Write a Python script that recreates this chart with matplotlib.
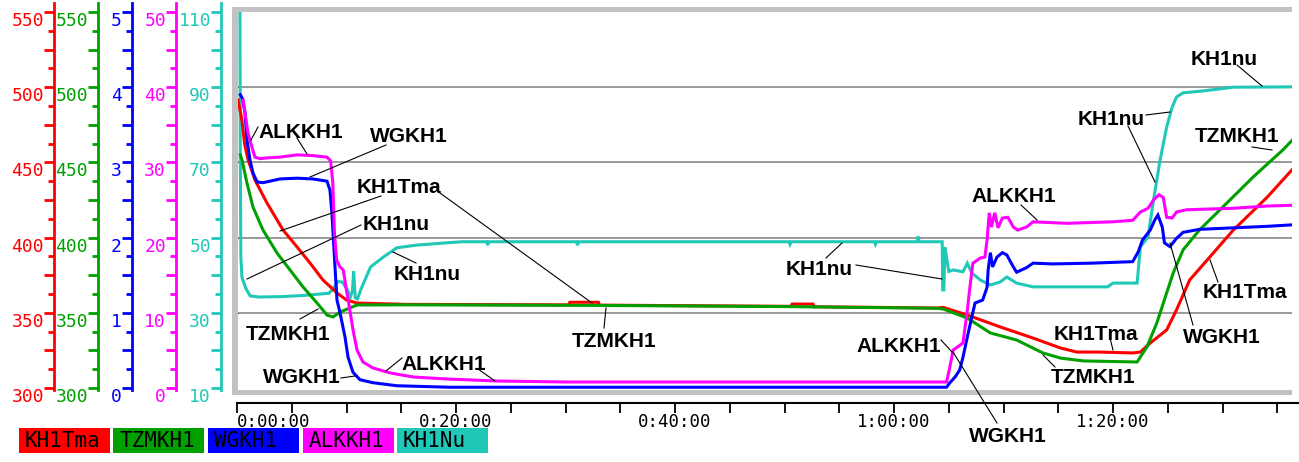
import matplotlib
matplotlib.use('Agg')
import matplotlib.pyplot as plt
from matplotlib.ticker import MultipleLocator, NullFormatter
from matplotlib.patches import Rectangle
from matplotlib.lines import Line2D
import matplotlib.transforms as mtransforms

# ---------------- data ----------------
series_names = ['KH1Tma', 'TZMKH1', 'WGKH1', 'ALKKH1', 'KH1Nu']
series_colors = ['#ff0000', '#00a000', '#0000ff', '#ff00ff', '#20c8b8']
scale_ranges = [(300, 550), (300, 550), (0, 5), (0, 50), (10, 110)]
scale_labels = [
    [300, 350, 400, 450, 500, 550],
    [300, 350, 400, 450, 500, 550],
    [0, 1, 2, 3, 4, 5],
    [0, 10, 20, 30, 40, 50],
    [10, 30, 50, 70, 90, 110],
]
time_ticks = [0, 20, 40, 60, 80]            # minutes
time_labels = ['0:00:00', '0:20:00', '0:40:00', '1:00:00', '1:20:00']

# (minute, value)
tma_pts = [(0.1, 491.5), (0.45, 478), (0.7, 462), (1.0, 452), (1.64, 438.3), (2.74, 423),
           (4.2, 405.1), (5.48, 393.8), (6.67, 383.1), (7.85, 371.8), (9.13, 363.2),
           (10.0, 358.5), (10.96, 356.5), (15.5, 355.6), (30.3, 355.3), (30.4, 357.0),
           (33.0, 357.0), (33.1, 355.1), (50.6, 354.3), (50.7, 355.8), (52.6, 355.8),
           (52.7, 354.0), (64.0, 353.2), (64.5, 353.6), (66.7, 348.5), (69.7, 340.6),
           (72.7, 333.2), (75.2, 326.6), (76.7, 323.9), (78.8, 323.9), (81.8, 323.3),
           (82.5, 323.9), (83.4, 329.9), (84.9, 338.6), (85.8, 351.9), (87.0, 371.8),
           (88.6, 385.1), (91.0, 405.1), (94.1, 427.0), (96.4, 445.5)]
tzm_pts = [(0.3, 455), (0.46, 451.6), (0.91, 436.3), (1.46, 420.3), (2.37, 405.1),
           (3.65, 389.8), (4.84, 378.5), (6.03, 367.2), (7.31, 356.5), (8.22, 348.5),
           (8.77, 347.2), (9.41, 350.5), (10.3, 353.2), (10.96, 355.2), (15.5, 355.3),
           (33.0, 354.9), (50.6, 354.1), (64.0, 353.0), (64.5, 352.5), (66.7, 346.5),
           (68.8, 336.6), (71.2, 331.9), (73.6, 323.3), (75.2, 319.9), (77.3, 318.0),
           (82.2, 317.3), (83.1, 327.3), (84.0, 343.2), (84.9, 363.2), (85.5, 376.5),
           (86.4, 391.8), (87.9, 405.1), (90.4, 423.0), (92.8, 440.3), (95.5, 458.2),
           (96.4, 465.0)]
wg_pts = [(0.3, 3.90), (0.5, 3.85), (0.73, 3.66), (0.91, 3.30), (1.19, 3.03), (1.46, 2.86),
          (1.83, 2.74), (2.37, 2.73), (3.93, 2.78), (5.48, 2.79), (6.94, 2.78), (8.22, 2.75),
          (8.49, 2.63), (8.68, 2.30), (8.95, 1.61), (9.13, 1.17), (9.41, 1.00), (9.86, 0.68),
          (10.14, 0.41), (10.59, 0.21), (11.23, 0.11), (12.42, 0.07), (14.6, 0.03),
          (19.45, 0.01), (64.8, 0.01), (65.1, 0.07), (65.6, 0.15), (66.0, 0.24), (66.3, 0.41),
          (66.7, 0.68), (67.1, 0.94), (67.4, 1.13), (68.1, 1.17), (68.5, 1.34), (68.6, 1.57),
          (68.8, 1.80), (69.0, 1.61), (69.4, 1.74), (69.9, 1.80), (70.3, 1.77), (70.9, 1.61),
          (71.2, 1.54), (72.1, 1.60), (72.7, 1.66), (74.5, 1.65), (78.0, 1.66), (81.8, 1.68),
          (82.3, 1.81), (82.7, 1.97), (83.4, 2.10), (83.8, 2.23), (84.1, 2.30), (84.5, 2.14),
          (84.7, 1.93), (85.2, 1.88), (85.8, 1.99), (86.4, 2.07), (87.9, 2.11), (91.0, 2.13),
          (94.1, 2.15), (96.4, 2.17)]
alk_pts = [(0.55, 38.3), (0.73, 36.6), (1.0, 33.9), (1.37, 32.0), (1.64, 30.7), (2.1, 30.5),
           (2.74, 30.6), (3.93, 30.7), (5.48, 31.0), (6.94, 30.9), (8.22, 30.7), (8.55, 30.2),
           (8.75, 27.3), (8.9, 20.6), (9.1, 17.0), (9.4, 16.1), (9.7, 15.7), (10.0, 13.0),
           (10.3, 10.4), (10.6, 7.7), (10.96, 5.05), (11.5, 3.46), (12.42, 2.66), (14.0, 2.0),
           (16.1, 1.46), (19.2, 1.2), (23.7, 0.93), (30.0, 0.8), (64.8, 0.8), (65.1, 2.79),
           (65.4, 5.05), (65.8, 5.45), (66.3, 5.98), (66.7, 10.4), (66.9, 13.0), (67.2, 16.6),
           (67.9, 17.3), (68.3, 17.4), (68.5, 19.7), (68.7, 23.3), (68.9, 21.4), (69.2, 23.3),
           (69.5, 21.3), (69.9, 22.6), (70.4, 22.7), (70.9, 21.4), (71.3, 21.0), (72.1, 21.4),
           (72.7, 22.1), (75.8, 21.9), (80.0, 22.1), (81.8, 22.3), (82.5, 23.4), (83.2, 23.9),
           (83.7, 25.0), (84.2, 25.7), (84.6, 25.3), (84.9, 22.7), (85.4, 22.6), (85.8, 23.4),
           (86.7, 23.7), (91.0, 23.9), (94.1, 24.2), (96.4, 24.3)]
nu_pts = [(0.27, 110), (0.30, 75), (0.35, 45), (0.45, 39.5), (0.8, 36.5), (1.2, 34.5),
          (2.0, 34.2), (4.0, 34.3), (6.0, 34.6), (8.4, 35.2), (8.8, 36.5), (9.2, 38.3),
          (9.6, 38.2), (10.1, 36.0), (10.3, 33.7), (10.55, 36.0), (10.65, 41.0), (10.8, 34.0),
          (11.0, 33.7), (11.3, 36.1), (12.2, 42.2), (13.4, 44.9), (14.6, 47.3), (16.4, 48.0),
          (19.1, 48.6), (20.6, 48.9), (22.8, 48.9), (22.9, 48.0), (23.0, 48.9), (31.0, 48.9),
          (31.1, 48.0), (31.2, 48.9), (50.4, 48.9), (50.5, 48.2), (50.6, 48.9), (58.2, 48.9),
          (58.3, 48.2), (58.4, 48.9), (62.1, 48.9), (62.2, 50.3), (62.3, 48.9), (64.4, 48.9),
          (64.45, 36.1), (64.55, 36.1), (64.65, 47.5), (65.0, 41.0), (65.4, 41.4), (66.3, 40.9),
          (66.7, 43.2), (67.1, 40.6), (67.9, 38.7), (68.8, 37.4), (69.7, 38.2), (70.3, 39.5),
          (71.2, 37.9), (72.7, 36.9), (79.5, 36.9), (80.0, 37.9), (82.2, 37.9), (82.5, 47.5),
          (83.2, 50.2), (83.7, 60.0), (84.3, 70.6), (84.9, 79.4), (85.4, 84.7), (85.8, 87.4),
          (86.4, 88.5), (88.2, 89.0), (91.0, 90.0), (97.0, 90.1)]
series_points = [tma_pts, tzm_pts, wg_pts, alk_pts, nu_pts]

# annotations: text, (center x, baseline y) in pixels, leader segments in pixels
annotations = [
    ('ALKKH1', (301, 138), [((258, 127), (251, 140)), ((297, 138), (307, 154))]),
    ('WGKH1', (409, 142), [((386, 145), (310, 177))]),
    ('KH1Tma', (399, 193), [((381, 196), (280, 231)), ((440, 193), (592, 303))]),
    ('KH1nu', (396, 230), [((361, 225), (247, 279))]),
    ('KH1nu', (427, 280), [((416, 263), (393, 252))]),
    ('TZMKH1', (288, 340), [((300, 319), (318, 309))]),
    ('WGKH1', (302, 383), [((341, 378), (355, 376))]),
    ('ALKKH1', (444, 370), [((386, 371), (402, 358)), ((478, 369), (495, 381))]),
    ('TZMKH1', (614, 347), [((604, 328), (606, 308))]),
    ('KH1nu', (819, 275), [((826, 258), (842, 243)), ((856, 265), (942, 279))]),
    ('ALKKH1', (1014, 202), [((1021, 205), (1037, 220))]),
    ('ALKKH1', (899, 352), [((941, 340), (952, 352))]),
    ('WGKH1', (1008, 442), [((997, 423), (953, 352))]),
    ('KH1Tma', (1096, 340), [((1110, 338), (1113, 350))]),
    ('TZMKH1', (1093, 383), [((1055, 367), (1043, 355))]),
    ('KH1Tma', (1245, 298), [((1218, 282), (1210, 260))]),
    ('WGKH1', (1222, 343), [((1193, 325), (1170, 243))]),
    ('KH1nu', (1111, 125), [((1146, 115), (1170, 112)), ((1128, 126), (1155, 182))]),
    ('KH1nu', (1224, 65), [((1237, 65), (1262, 86))]),
    ('TZMKH1', (1237, 142), [((1252, 147), (1272, 150))]),
]

# ---------------- layout ----------------
W, H, DPI = 1299, 462, 100
PX_PER_MIN = 10.95
T0_PX = 237
Y_LO_PX, Y_HI_PX = 388, 12          # pixel rows of scale min / max
MONO = 'DejaVu Sans Mono'

fig = plt.figure(figsize=(W / DPI, H / DPI), dpi=DPI)
fig.patch.set_facecolor('white')


def rect(x0, y0, x1, y1):
    return [x0 / W, (H - y1) / H, (x1 - x0) / W, (y1 - y0) / H]


def frac(ypx):
    return (Y_LO_PX - ypx) / (Y_LO_PX - Y_HI_PX)


def lim(rng, ytop, ybot):
    lo, hi = rng
    return lo + (hi - lo) * frac(ybot), lo + (hi - lo) * frac(ytop)


# data axes: cyan at bottom, then red, green, blue, magenta
order = [4, 0, 1, 2, 3]
plot_box = (238, 12, 1292, 390)
base = fig.add_axes(rect(*plot_box))
axes = {}
for k, idx in enumerate(order):
    a = base if k == 0 else base.twinx()
    axes[idx] = a
    a.set_xlim((plot_box[0] - T0_PX) / PX_PER_MIN, (plot_box[2] - T0_PX) / PX_PER_MIN)
    a.set_ylim(*lim(scale_ranges[idx], plot_box[1], plot_box[3]))
    for s in a.spines.values():
        s.set_visible(False)
    a.tick_params(left=False, right=False, bottom=False, top=False,
                  labelleft=False, labelright=False, labelbottom=False)
    a.patch.set_visible(False)

# grid lines (on cyan scale)
base.set_yticks(scale_labels[4][1:-1])
base.grid(True, axis='y', color='#999999', linewidth=1.4)
base.set_axisbelow(True)

for idx in order:
    pts = series_points[idx]
    t = [p[0] for p in pts]
    v = [p[1] for p in pts]
    axes[idx].plot(t, v, color=series_colors[idx], linewidth=2.2, solid_joinstyle='miter')

# gray frame around plot
frame_col = '#c2c2c2'
for (x0, y0, x1, y1) in [(232, 7, 1292, 12), (232, 7, 238, 395), (232, 390, 1292, 395)]:
    fig.add_artist(Rectangle((x0 / W, 1 - y1 / H), (x1 - x0) / W, (y1 - y0) / H,
                             transform=fig.transFigure, facecolor=frame_col,
                             edgecolor='none', zorder=1.5))

# left colored scales
scale_x = [54, 98, 132, 176, 221]
for idx in range(5):
    c = series_colors[idx]
    x = scale_x[idx]
    sa = fig.add_axes(rect(x, 3, x + 1, 390))
    sa.set_ylim(*lim(scale_ranges[idx], 3, 390))
    sa.patch.set_visible(False)
    for nm, s in sa.spines.items():
        s.set_visible(nm == 'left')
    sa.spines['left'].set_color(c)
    sa.spines['left'].set_linewidth(2.0)
    lo, hi = scale_ranges[idx]
    major = (hi - lo) / 10.0
    sa.yaxis.set_major_locator(MultipleLocator(major))
    sa.yaxis.set_minor_locator(MultipleLocator(major / 2))
    sa.yaxis.set_major_formatter(NullFormatter())
    sa.tick_params(axis='y', which='major', direction='out', length=7.2, width=2.0,
                   color=c, labelleft=False)
    sa.tick_params(axis='y', which='minor', direction='out', length=4.3, width=2.0,
                   color=c)
    sa.set_xticks([])
    off = mtransforms.ScaledTranslation(-10 / DPI, -9 / DPI, fig.dpi_scale_trans)
    for val in scale_labels[idx]:
        sa.text(0, val, str(val), transform=sa.get_yaxis_transform() + off,
                ha='right', va='center', color=c, fontsize=13, family=MONO,
                clip_on=False)

# time axis
ta = fig.add_axes(rect(T0_PX, 402, W, 403))
ta.set_xlim(0, (W - T0_PX) / PX_PER_MIN)
ta.patch.set_visible(False)
for nm, s in ta.spines.items():
    s.set_visible(nm == 'bottom')
ta.spines['bottom'].set_linewidth(1.5)
ta.set_yticks([])
ta.set_xticks(time_ticks)
ta.set_xticklabels(time_labels, fontsize=12.5, family=MONO)
ta.xaxis.set_minor_locator(MultipleLocator(5))
ta.tick_params(axis='x', which='both', direction='out', length=7.2, width=1.3, pad=0)
ta.get_xticklabels()[0].set_horizontalalignment('left')

# legend boxes
for i, (nm, c) in enumerate(zip(series_names, series_colors)):
    x0 = 19 + i * 94.5
    fig.add_artist(Rectangle((x0 / W, 1 - 453 / H), 91 / W, 25 / H,
                             transform=fig.transFigure, facecolor=c, edgecolor='none'))
    fig.text((x0 + 6) / W, 1 - 441 / H, nm, ha='left', va='center', fontsize=15,
             family=MONO, color='black')

# annotations
for txt, (cx, by), leaders in annotations:
    fig.text(cx / W, 1 - by / H, txt, ha='center', va='baseline', fontsize=15,
             family='Liberation Sans', weight='bold', color='black', zorder=4)
    for (x1, y1), (x2, y2) in leaders:
        fig.add_artist(Line2D([x1 / W, x2 / W], [1 - y1 / H, 1 - y2 / H],
                              transform=fig.transFigure, color='black',
                              linewidth=0.8, zorder=4))

fig.savefig('out.png', dpi=DPI)
